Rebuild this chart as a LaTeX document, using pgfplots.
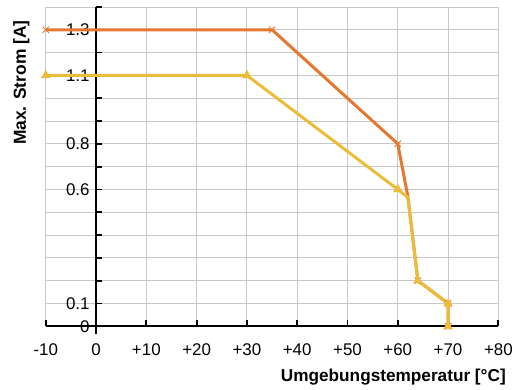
\documentclass[border=0pt]{standalone}
\usepackage{pgfplots}
\pgfplotsset{compat=1.18}
\usepackage{fontspec}
\setmainfont{Liberation Sans}
\definecolor{orangeL}{RGB}{228,120,48}
\definecolor{yellowL}{RGB}{235,188,58}
\definecolor{gridgray}{RGB}{200,200,200}
\pgfplotsset{
  layers/mylayers/.define layer set={
    axis background,axis grid,main,axis ticks,axis lines,axis tick labels,
    axis descriptions,axis foreground}{},
}
\begin{document}
\begin{tikzpicture}
\begin{axis}[
  set layers=mylayers,
  at={(0,0)}, anchor=south west,
  scale only axis, width=455pt, height=321pt,
  xmin=-10, xmax=80, ymin=0, ymax=1.4,
  axis x line=bottom, axis y line=center,
  axis line style={black, line width=2.2pt, -},
  every inner y axis line/.append style={-},
  every outer x axis line/.append style={-},
  hide obscured x ticks=false, hide obscured y ticks=false,
  xtick={-10,0,10,20,30,40,50,60,70,80},
  xticklabels={-10,0,+10,+20,+30,+40,+50,+60,+70,+80},
  ytick={0,0.1,0.2,0.3,0.4,0.5,0.6,0.7,0.8,0.9,1.0,1.1,1.2,1.3,1.4},
  yticklabels={0,0.1,,,,,0.6,,0.8,,,1.1,,1.3,},
  grid=major,
  major grid style={gridgray, line width=0.9pt},
  tick align=inside,
  major tick length=6pt,
  tick style={black, line width=1.8pt},
  ticklabel style={font=\fontsize{17}{20}\selectfont},
  xticklabel style={anchor=base, yshift=-29pt},
  yticklabel style={anchor=east, xshift=-3pt},
  clip=false,
]
\addplot[orangeL, line width=3pt, mark=x, mark size=4.5pt,
  mark indices={1,2,3,5,6,7},
  mark options={line width=1pt}]
  coordinates {(-10,1.3) (35,1.3) (60,0.8) (62,0.57) (64,0.2) (70,0.1) (70,0)};
\addplot[yellowL, line width=3pt, mark=triangle*, mark size=5pt,
  mark indices={1,2,3,5,6,7},
  mark options={line width=0.5pt}]
  coordinates {(-10,1.1) (30,1.1) (60,0.6) (62,0.565) (64,0.2) (70,0.1) (70,0)};
\end{axis}
\draw[line width=2.2pt] (50.6pt,0) -- (50.6pt,-8pt);
\node[rotate=90, anchor=base east, font=\bfseries\fontsize{17.5}{20}\selectfont]
  at (-20pt,311pt) {Max. Strom [A]};
\node[anchor=base east, font=\bfseries\fontsize{17.3}{20}\selectfont]
  at (466pt,-56pt) {Umgebungstemperatur [°C]};
\path (-46pt,-64pt) rectangle (470pt,328pt);
\end{tikzpicture}
\end{document}
